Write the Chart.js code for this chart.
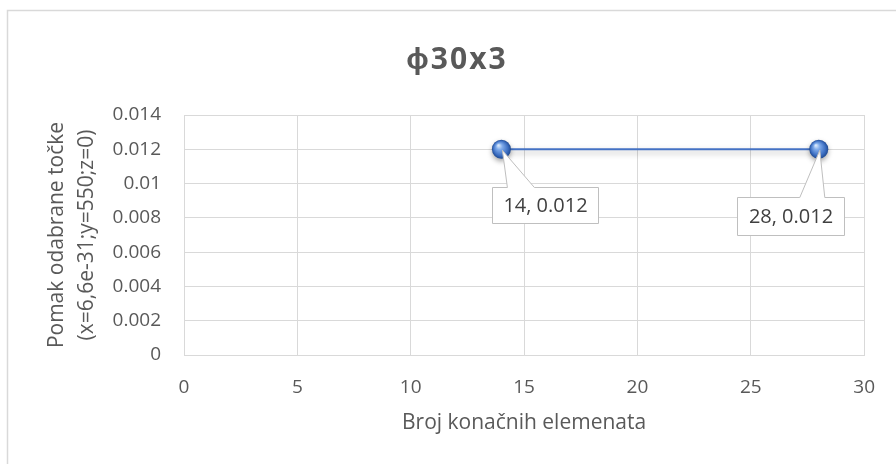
<!DOCTYPE html>
<html>
<head>
<meta charset="utf-8">
<title>ϕ30x3</title>
<script src="https://cdn.jsdelivr.net/npm/chart.js@4.4.1/dist/chart.umd.min.js"></script>
<style>
  html, body { margin: 0; padding: 0; background: #ffffff; }
  #wrap { width: 896px; height: 464px; }
</style>
</head>
<body>
<div id="wrap"><canvas id="chart" width="896" height="464"></canvas></div>
<script>
// Number of finite elements vs. displacement of the selected point
const elementCounts = [14, 28];
const displacements = [0.012, 0.012];

const chartTitle = 'ϕ30x3';
const xAxisTitle = 'Broj konačnih elemenata';
const yAxisTitle = ['Pomak odabrane točke', '(x=6,6e-31;y=550;z=0)'];

const TEXT = '#595959';
const GRID = '#d9d9d9';
const LINE = '#4472c4';

Chart.defaults.font.family = "'Open Sans', 'Liberation Sans', sans-serif";
Chart.defaults.color = TEXT;

// Outer chart frame and the chart heading, centred on the frame
const framePlugin = {
  id: 'frame',
  beforeDraw(chart) {
    const ctx = chart.ctx;
    ctx.save();
    ctx.fillStyle = '#ffffff';
    ctx.fillRect(0, 0, chart.width, chart.height);
    ctx.strokeStyle = GRID;
    ctx.lineWidth = 1.5;
    ctx.strokeRect(7.5, 10.5, chart.width + 20, chart.height + 20);
    ctx.restore();
  },
  afterDraw(chart, args, opts) {
    const ctx = chart.ctx;
    ctx.save();
    ctx.font = "bold 30px 'Open Sans', sans-serif";
    ctx.fillStyle = TEXT;
    ctx.textBaseline = 'alphabetic';
    ctx.textAlign = 'left';
    const spacing = 2;
    ctx.letterSpacing = spacing + 'px';
    const w = ctx.measureText(opts.text).width - spacing;
    const cx = (7 + chart.width + 9) / 2;
    ctx.fillText(opts.text, cx - w / 2, 69);
    ctx.restore();
  }
};

// Soft shadow under the series line
const lineShadow = {
  id: 'lineShadow',
  beforeDatasetDraw(chart) {
    const ctx = chart.ctx;
    ctx.save();
    ctx.shadowColor = 'rgba(0,0,0,0.30)';
    ctx.shadowBlur = 6;
    ctx.shadowOffsetY = 3;
  },
  afterDatasetDraw(chart) {
    chart.ctx.restore();
  }
};

// Glossy sphere markers and callout data labels
const markersAndCallouts = {
  id: 'markersAndCallouts',
  afterDatasetsDraw(chart, args, opts) {
    const ctx = chart.ctx;
    const meta = chart.getDatasetMeta(0);
    const ds = chart.data.datasets[0];
    const r = 9.5;

    meta.data.forEach((pt) => {
      const x = pt.x, y = pt.y;
      ctx.save();
      ctx.shadowColor = 'rgba(0,0,0,0.35)';
      ctx.shadowBlur = 5;
      ctx.shadowOffsetY = 2.5;
      const g = ctx.createRadialGradient(x - 3, y - 4, 0.5, x, y, r);
      g.addColorStop(0, '#d8e8fc');
      g.addColorStop(0.3, '#7eaaea');
      g.addColorStop(0.75, '#3d6fc2');
      g.addColorStop(1, '#1f4a92');
      ctx.fillStyle = g;
      ctx.beginPath();
      ctx.arc(x, y, r, 0, Math.PI * 2);
      ctx.fill();
      ctx.restore();
    });

    meta.data.forEach((pt, i) => {
      const c = opts.callouts[i];
      if (!c) return;
      const px = pt.x, py = pt.y;
      const L = Math.round(px + c.dx) + 0.5;
      const T = Math.round(py + c.dy) + 0.5;
      const R = L + c.w, B = T + c.h;
      const a = px + c.wa, b = px + c.wb;
      ctx.save();
      ctx.beginPath();
      ctx.moveTo(L, T);
      ctx.lineTo(a, T);
      ctx.lineTo(px + 1, py + 1);
      ctx.lineTo(b, T);
      ctx.lineTo(R, T);
      ctx.lineTo(R, B);
      ctx.lineTo(L, B);
      ctx.closePath();
      ctx.fillStyle = '#ffffff';
      ctx.fill();
      ctx.strokeStyle = '#bfbfbf';
      ctx.lineWidth = 1;
      ctx.stroke();
      const v = ds.data[i];
      ctx.fillStyle = '#404040';
      ctx.font = "20px 'Open Sans', sans-serif";
      ctx.textAlign = 'center';
      ctx.textBaseline = 'middle';
      ctx.fillText(v.x + ', ' + v.y, (L + R) / 2, (T + B) / 2 + 1);
      ctx.restore();
    });
  }
};

new Chart(document.getElementById('chart'), {
  type: 'scatter',
  data: {
    datasets: [{
      data: elementCounts.map((x, i) => ({ x: x, y: displacements[i] })),
      showLine: true,
      borderColor: LINE,
      borderWidth: 2,
      pointRadius: 0,
      pointHoverRadius: 0,
      fill: false
    }]
  },
  plugins: [framePlugin, lineShadow, markersAndCallouts],
  options: {
    responsive: false,
    animation: false,
    devicePixelRatio: 1,
    events: [],
    layout: { padding: { left: 7, right: 30, top: 115, bottom: 0 } },
    plugins: {
      legend: { display: false },
      tooltip: { enabled: false },
      title: { display: false },
      frame: { text: chartTitle },
      markersAndCallouts: {
        callouts: [
          { dx: -9, dy: 38, w: 106, h: 36, wa: 6, wb: 33 },
          { dx: -82, dy: 48, w: 107, h: 38, wa: -19, wb: 6 }
        ]
      }
    },
    scales: {
      x: {
        type: 'linear',
        min: 0,
        max: 30,
        ticks: { stepSize: 5, padding: 21, color: TEXT, font: { size: 19 } },
        grid: { color: GRID, lineWidth: 1, drawTicks: false },
        border: { color: GRID, width: 1 },
        title: {
          display: true,
          text: xAxisTitle,
          color: TEXT,
          font: { size: 21, lineHeight: 1.2 },
          padding: { top: 0, bottom: 28 }
        },
        afterFit(scale) { scale.height = 109; }
      },
      y: {
        type: 'linear',
        min: 0,
        max: 0.014,
        ticks: {
          stepSize: 0.002,
          padding: 23,
          color: TEXT,
          font: { size: 19 },
          callback: (v) => String(+v.toFixed(3))
        },
        grid: { color: GRID, lineWidth: 1, drawTicks: false },
        border: { color: GRID, width: 1 },
        title: {
          display: true,
          text: yAxisTitle,
          color: TEXT,
          font: { size: 21, lineHeight: '30px' },
          padding: { top: 35, bottom: 0 }
        },
        afterFit(scale) { scale.width = 177; }
      }
    }
  }
});
</script>
</body>
</html>
